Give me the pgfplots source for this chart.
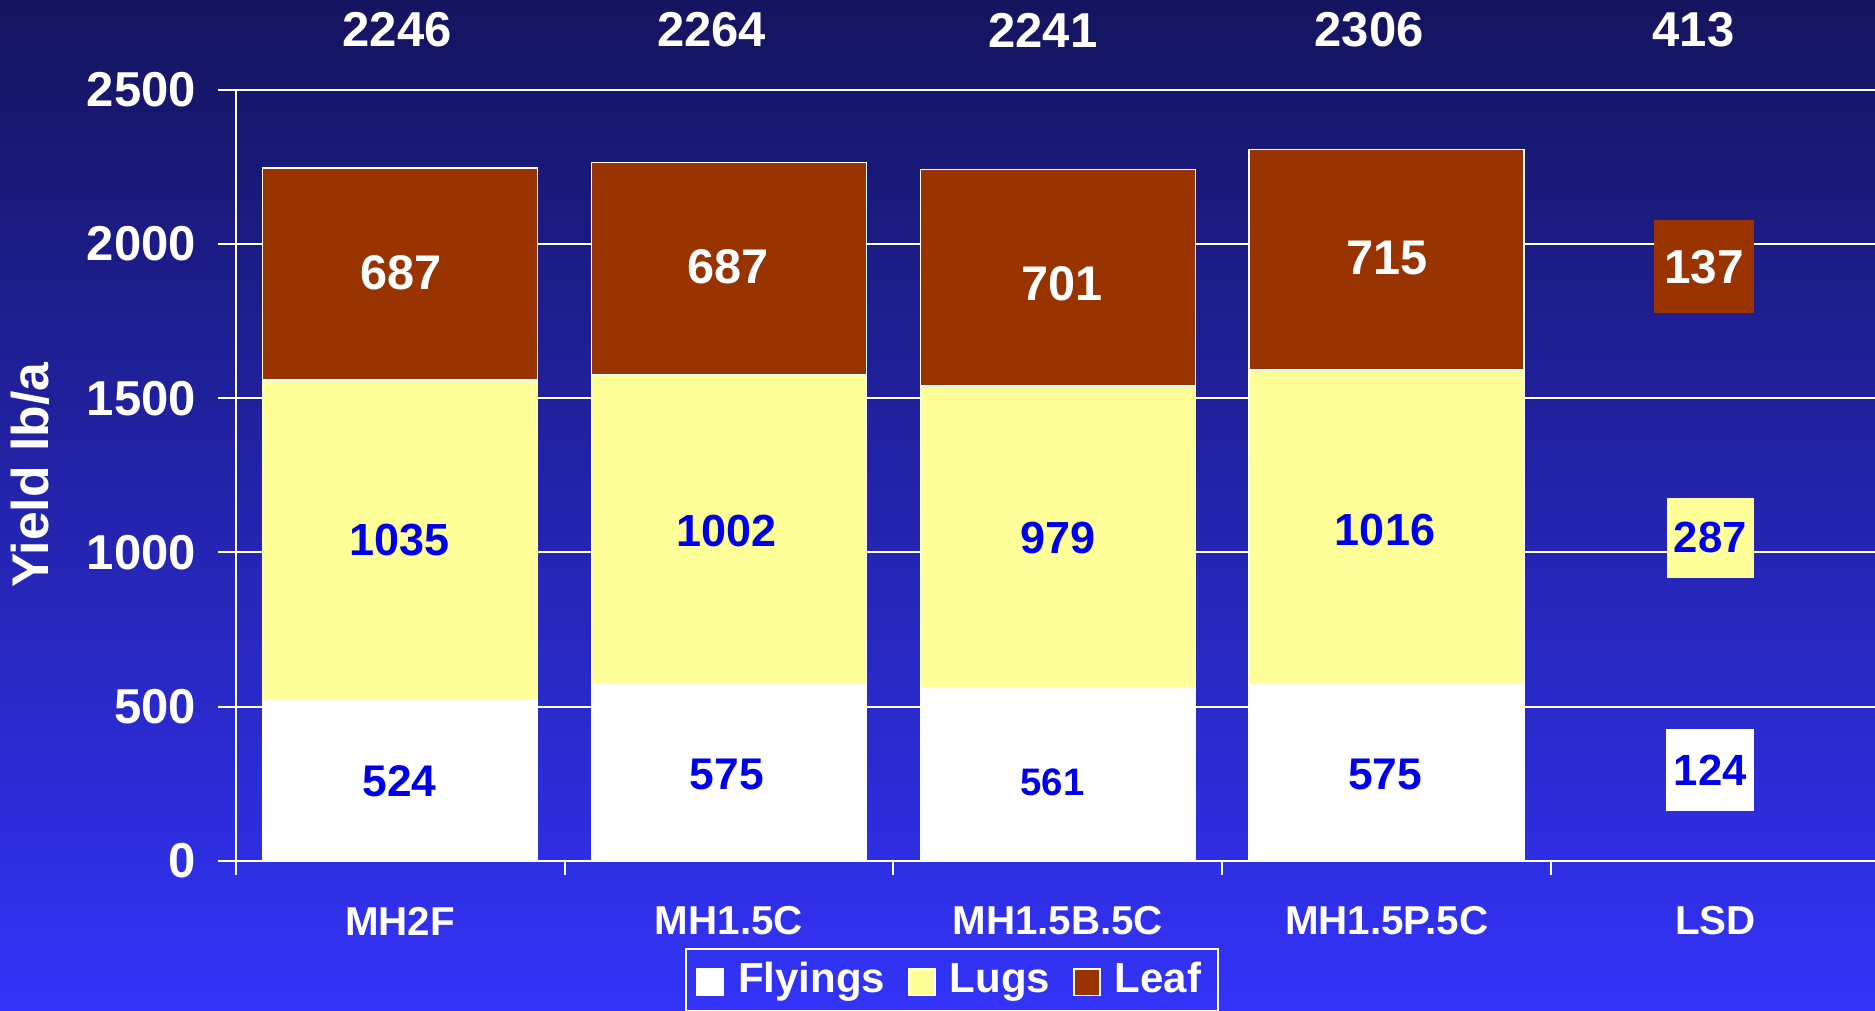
\documentclass[border=0pt]{standalone}
\usepackage{fontspec}
\setmainfont{Liberation Sans}
\usepackage{pgfplots}
\pgfplotsset{compat=1.18}
\definecolor{leaf}{RGB}{153,51,0}
\definecolor{lugs}{RGB}{255,255,153}
\definecolor{lbl}{RGB}{0,0,235}
\definecolor{bgtop}{RGB}{20,20,95}
\definecolor{bgbot}{RGB}{51,51,250}
\newcommand{\fs}[1]{\fontsize{#1}{#1}\selectfont\bfseries}
\pgfplotsset{common/.style={
  at={(0pt,0pt)}, anchor=south west, scale only axis,
  width=491.8pt, height=231.4pt,
  xmin=-0.5, xmax=4.485, ymin=0, ymax=2500, enlargelimits=false}}
\begin{document}
\begin{tikzpicture}
\useasboundingbox (-70.7pt,-44.7pt) rectangle (491.8pt,258.3pt);
\shade[top color=bgtop, bottom color=bgbot] (-70.7pt,-44.7pt) rectangle (491.8pt,258.3pt);
\begin{axis}[common,
  ybar stacked, bar width=82.5pt,
  axis lines=left, axis line style={white, line width=0.6pt, -},
  ytick={0,500,...,2500},
  xtick={0,1,2,3,4}, xticklabels={MH2F,MH1.5C,MH1.5B.5C,MH1.5P.5C,LSD},
  minor xtick={-0.5,0.5,1.5,2.5,3.5},
  ymajorgrids, grid style={white, line width=0.6pt},
  tick align=outside, major tick length=5.4pt, minor tick length=4.3pt,
  tick style={white, line width=0.6pt},
  major x tick style={draw=none},
  /pgf/number format/assume math mode=true,
  /pgf/number format/1000 sep={},
  yticklabel style={font=\fs{14.7}, text=white, xshift=-3pt},
  xticklabel style={font=\fs{12.1}, text=white, anchor=center, yshift=-12.6pt},
  ylabel={Yield lb/a},
  every axis y label/.style={at={(axis description cs:-0.1255,0.5)}, rotate=90, anchor=center, font=\fs{15.5}, text=white},
  legend style={at={(0.437,0)}, anchor=north, yshift=-26.1pt, draw=white, line width=0.6pt,
    fill=none, text=white, font=\fs{12.6}, legend columns=-1,
    /tikz/every odd column/.append style={column sep=2.2pt},
    /tikz/every even column/.append style={column sep=4.8pt}},
  legend image code/.code={\draw[#1, line width=0.5pt] (0pt,-4.6pt) rectangle (7.9pt,3.3pt);},
]
\addplot[fill=white, draw=white] coordinates {(0,524) (1,575) (2,561) (3,575)};
\addplot[fill=lugs, draw=white] coordinates {(0,1035) (1,1002) (2,979) (3,1016)};
\addplot[fill=leaf, draw=white] coordinates {(0,687) (1,687) (2,701) (3,715)};
\legend{Flyings, Lugs, Leaf}
\end{axis}
\begin{axis}[common, hide axis, clip=false,
  nodes near coords, point meta=explicit symbolic,
  every node near coord/.append style={anchor=center}]
% totals
\addplot[draw=none, mark=none, every node near coord/.append style={text=white, font=\fs{14.7}}]
  coordinates {(-0.009,2693)[2246] (0.947,2693)[2264] (1.955,2693)[2241] (2.947,2693)[2306] (3.933,2693)[413]};
% leaf labels
\addplot[draw=none, mark=none, every node near coord/.append style={text=white, font=\fs{14.6}}]
  coordinates {(0.002,1907)[687] (0.998,1926)[687] (2.013,1872)[701] (3.002,1953)[715]};
% lugs labels
\addplot[draw=none, mark=none, every node near coord/.append style={text=lbl, font=\fs{13.5}}]
  coordinates {(-0.002,1039)[1035] (0.994,1070)[1002] (2.0,1047)[979] (2.995,1074)[1016]};
% flyings labels
\addplot[draw=none, mark=none, every node near coord/.append style={text=lbl, font=\fs{13.3}}]
  coordinates {(-0.002,260)[524] (0.994,279)[575] (2.995,279)[575]};
\addplot[draw=none, mark=none, every node near coord/.append style={text=lbl, font=\fs{11.5}}]
  coordinates {(1.984,256)[561]};
% LSD
\addplot[draw=none, mark=none, every node near coord/.append style={text=white, fill=leaf, font=\fs{14.3}, minimum width=30pt, minimum height=28pt, inner sep=0pt}]
  coordinates {(3.965,1926)[137]};
\addplot[draw=none, mark=none, every node near coord/.append style={text=lbl, fill=lugs, font=\fs{13.1}, minimum width=26pt, minimum height=24pt, inner sep=0pt}]
  coordinates {(3.984,1048)[287]};
\addplot[draw=none, mark=none, every node near coord/.append style={text=lbl, fill=white, font=\fs{13.1}, minimum width=26.5pt, minimum height=24.4pt, inner sep=0pt}]
  coordinates {(3.984,295)[124]};
\end{axis}
\end{tikzpicture}
\end{document}
